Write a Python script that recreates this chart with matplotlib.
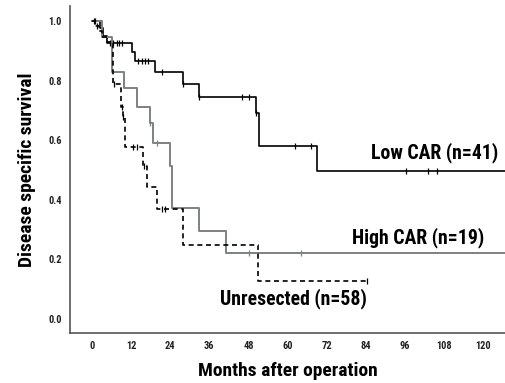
import numpy as np
import matplotlib
matplotlib.use('Agg')
import matplotlib.pyplot as plt

# fonte estreita e pesada, como no original
plt.rcParams['font.family'] = ['Roboto Condensed', 'DejaVu Sans Condensed', 'DejaVu Sans']
plt.rcParams['font.stretch'] = 'condensed'

# Low CAR (n=41) - tempos dos degraus e sobrevida apos cada degrau
low_t = [0, 2.5, 3.3, 4.5, 12.2, 13.2, 19.3, 28.0, 32.9, 50.2, 51.2, 68.9, 130]
low_s = [1.0, 0.976, 0.951, 0.925, 0.897, 0.867, 0.83, 0.79, 0.746, 0.69, 0.58, 0.497, 0.497]
low_cens_t = [0.5, 1.0, 5.5, 6.5, 7.6, 8.4, 9.3, 14.1, 15.2, 16.2, 17.2, 21.4, 28.0, 32.9, 46.1, 48.2, 50.2, 62.3, 67.2, 96.3, 103.2, 105.9]
low_cens_s = [1.0, 1.0, 0.925, 0.925, 0.925, 0.925, 0.925, 0.867, 0.867, 0.867, 0.867, 0.83, 0.79, 0.746, 0.746, 0.746, 0.69, 0.58, 0.58, 0.497, 0.497, 0.497]

# High CAR (n=19)
high_t = [0, 3.0, 6.0, 9.8, 13.7, 17.8, 18.8, 23.9, 24.4, 32.9, 41.1, 130]
high_s = [1.0, 0.947, 0.83, 0.774, 0.713, 0.657, 0.59, 0.513, 0.371, 0.296, 0.222, 0.222]
high_cens_t = [17.8, 20.0, 48.2, 64.0]
high_cens_s = [0.657, 0.59, 0.222, 0.222]

# Unresected (n=58)
unres_t = [0, 1.0, 2.0, 3.0, 4.5, 6.5, 8.8, 9.4, 10.0, 15.7, 16.8, 19.8, 28.0, 51.0, 84.3]
unres_s = [1.0, 0.983, 0.966, 0.948, 0.931, 0.79, 0.713, 0.677, 0.578, 0.513, 0.444, 0.369, 0.248, 0.128, 0.128]
unres_cens_t = [1.5, 6.7, 9.1, 9.6, 12.7, 13.7, 15.9, 21.4, 22.4, 84.3]
unres_cens_s = [0.983, 0.79, 0.713, 0.677, 0.578, 0.578, 0.513, 0.369, 0.369, 0.128]

xticks = [0, 12, 24, 36, 48, 60, 72, 84, 96, 108, 120]
yticks = [0.0, 0.2, 0.4, 0.6, 0.8, 1.0]

fig = plt.figure(figsize=(5.05, 3.83), dpi=100)
ax = fig.add_axes([0.1386, 0.1305, 0.8614, 0.8535])

grey = '#7d8280'
ax.step(low_t, low_s, where='post', color='black', lw=1.2)
ax.step(high_t, high_s, where='post', color=grey, lw=1.4)
ax.step(unres_t, unres_s, where='post', color='black', lw=1.2, dashes=(3, 2.2))

ax.plot(low_cens_t, low_cens_s, ls='none', marker='|', ms=5, mew=0.9, color='black')
ax.plot(high_cens_t, high_cens_s, ls='none', marker='|', ms=5, mew=0.9, color=grey)
ax.plot(unres_cens_t, unres_cens_s, ls='none', marker='|', ms=5, mew=0.9, color='black')

ax.set_xlim(-6.75, 126.7)
ax.set_ylim(-0.047, 1.05)
ax.set_xticks(xticks)
ax.set_xticklabels([str(x) for x in xticks])
ax.set_yticks(yticks)
ax.set_yticklabels(['%.1f' % y for y in yticks])
ax.tick_params(length=0, labelsize=7.5, pad=6)
for lbl in ax.get_xticklabels() + ax.get_yticklabels():
    lbl.set_fontweight('bold')
    lbl.set_color('#222222')

ax.spines['top'].set_visible(False)
ax.spines['right'].set_visible(False)
ax.spines['left'].set_color('#555555')
ax.spines['bottom'].set_color('#555555')
ax.spines['left'].set_linewidth(1.2)
ax.spines['bottom'].set_linewidth(1.2)

ax.set_xlabel('Months after operation', fontsize=14, fontweight='heavy', labelpad=8)
ax.set_ylabel('Disease specific survival', fontsize=14, fontweight='heavy', labelpad=9)

ax.text(105.2, 0.557, 'Low CAR (n=41)', fontsize=14.2, fontweight='heavy', ha='center', va='center')
ax.text(100, 0.272, 'High CAR (n=19)', fontsize=14.2, fontweight='heavy', ha='center', va='center')
ax.text(61.7, 0.067, 'Unresected (n=58)', fontsize=14.2, fontweight='heavy', ha='center', va='center')

fig.savefig('out.png', dpi=100)
